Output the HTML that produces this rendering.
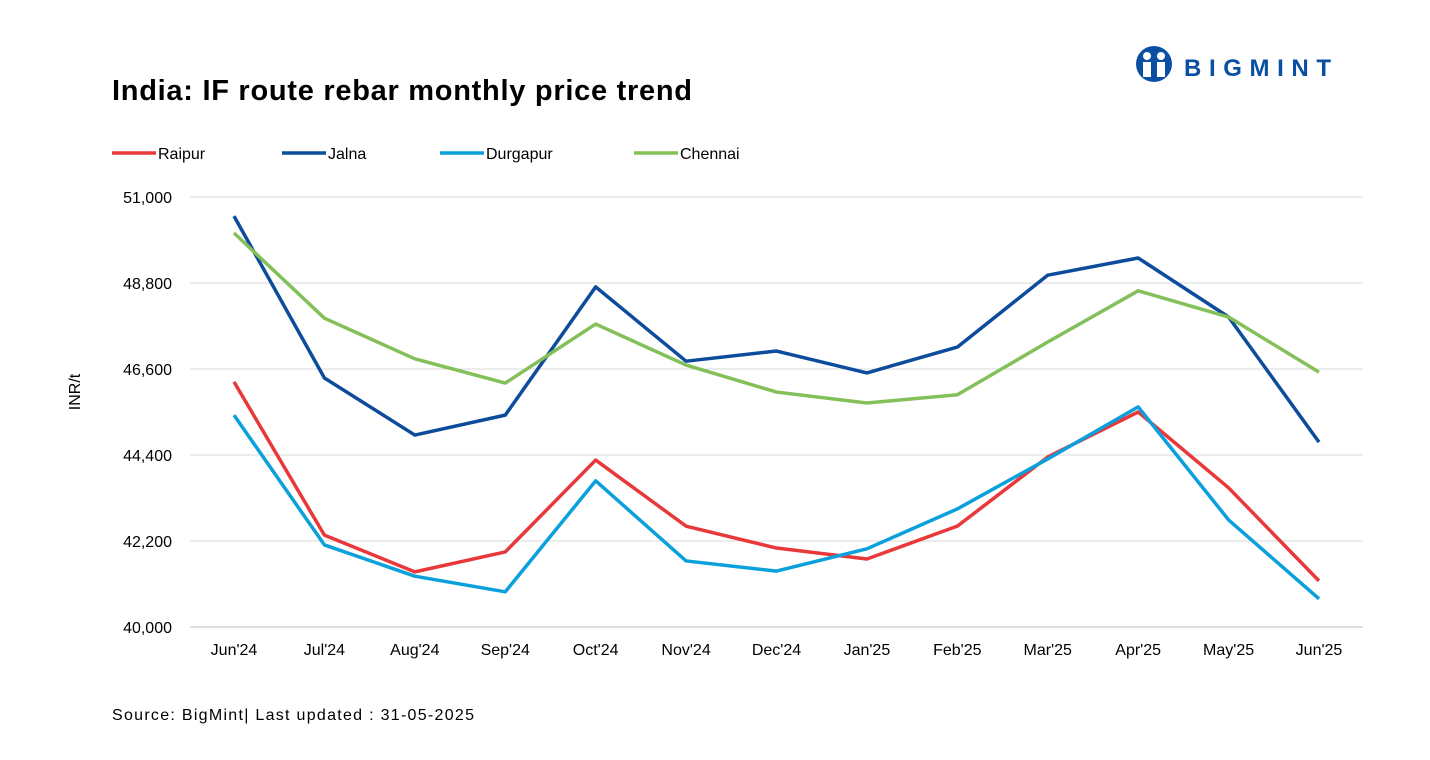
<!DOCTYPE html>
<html><head><meta charset="utf-8"><style>
body{margin:0;background:#fff;font-family:"Liberation Sans",sans-serif;}
#wrap{position:relative;width:1430px;height:760px;overflow:hidden;}
</style></head><body><div id="wrap">
<svg id="svg" width="1430" height="760" xmlns="http://www.w3.org/2000/svg">
<text x="112" y="100" font-size="29" font-weight="bold" fill="#000" textLength="580" lengthAdjust="spacing">India: IF route rebar monthly price trend</text>
<g>
<circle cx="1154" cy="64" r="18" fill="#0a4fa3"/>
<circle cx="1147" cy="56" r="4" fill="#fff"/><circle cx="1161" cy="56" r="4" fill="#fff"/>
<rect x="1143" y="62" width="8" height="15" fill="#fff"/><rect x="1157" y="62" width="8" height="15" fill="#fff"/>
<text x="1184" y="76" font-size="24" font-weight="bold" fill="#0a4fa3" textLength="147" lengthAdjust="spacing">BIGMINT</text>
</g>
<text transform="translate(80,392) rotate(-90)" font-size="16" text-anchor="middle" fill="#000">INR/t</text>
<text x="112" y="720" font-size="16" fill="#000" textLength="362" lengthAdjust="spacing">Source: BigMint| Last updated : 31-05-2025</text>
<g id="grid"></g><g id="lines"></g><g id="legend"></g>
</svg>
<script>
const categories=["Jun'24","Jul'24","Aug'24","Sep'24","Oct'24","Nov'24","Dec'24","Jan'25","Feb'25","Mar'25","Apr'25","May'25","Jun'25"];
const yTicks=[40000,42200,44400,46600,48800,51000];
const raipur=[46270,42350,41410,41920,44270,42580,42020,41740,42580,44350,45500,43560,41180];
const jalna=[50510,46370,44910,45420,48700,46800,47060,46500,47160,49000,49440,47930,44730];
const durgapur=[45420,42100,41300,40900,43740,41690,41430,42000,43020,44300,45630,42740,40720];
const chennai=[50080,47900,46860,46240,47750,46700,46010,45730,45940,47290,48600,47930,46520];
const seriesNames=["Raipur","Jalna","Durgapur","Chennai"];
const seriesColors=["#e8383a","#0d4c9c","#0aa0dc","#84c05a"];
const seriesData=[raipur,jalna,durgapur,chennai];
const NS="http://www.w3.org/2000/svg";
const x=i=>234+i*(1319-234)/(categories.length-1);
const y=v=>627-(v-40000)/(51000-40000)*430;
function mk(t,a,p){const e=document.createElementNS(NS,t);for(const k in a)e.setAttribute(k,a[k]);p.appendChild(e);return e;}
const grid=document.getElementById('grid');
yTicks.forEach(v=>{
 const l=mk('line',{x1:190,x2:1363,y1:y(v),y2:y(v),stroke:v===40000?'#bfbfbf':'#d9d9d9','stroke-width':1},grid);
 
 
 const t=mk('text',{x:172,y:y(v)+6,'font-size':16,'text-anchor':'end',fill:'#000'},grid);
 t.textContent=v.toLocaleString('en-US');
 
 
});
categories.forEach((c,i)=>{
 const t=mk('text',{x:x(i),y:655,'font-size':16,'text-anchor':'middle',fill:'#000'},grid);
 t.textContent=c;
 
 
});
const lines=document.getElementById('lines');
const legend=document.getElementById('legend');
const legX=[112,282,440,634];
seriesData.forEach((d,s)=>{
 const p=mk('polyline',{points:d.map((v,i)=>x(i)+','+y(v)).join(' '),fill:'none',stroke:seriesColors[s],'stroke-width':3.5,'stroke-linejoin':'round'},lines);
 
 
 const g=mk('g',{},legend);
 
 
 mk('line',{x1:legX[s],x2:legX[s]+44,y1:153,y2:153,stroke:seriesColors[s],'stroke-width':3.5},g);
 const t=mk('text',{x:legX[s]+46,y:159,'font-size':16,fill:'#000'},g);
 t.textContent=seriesNames[s];
});
</script>
</div></body></html>
